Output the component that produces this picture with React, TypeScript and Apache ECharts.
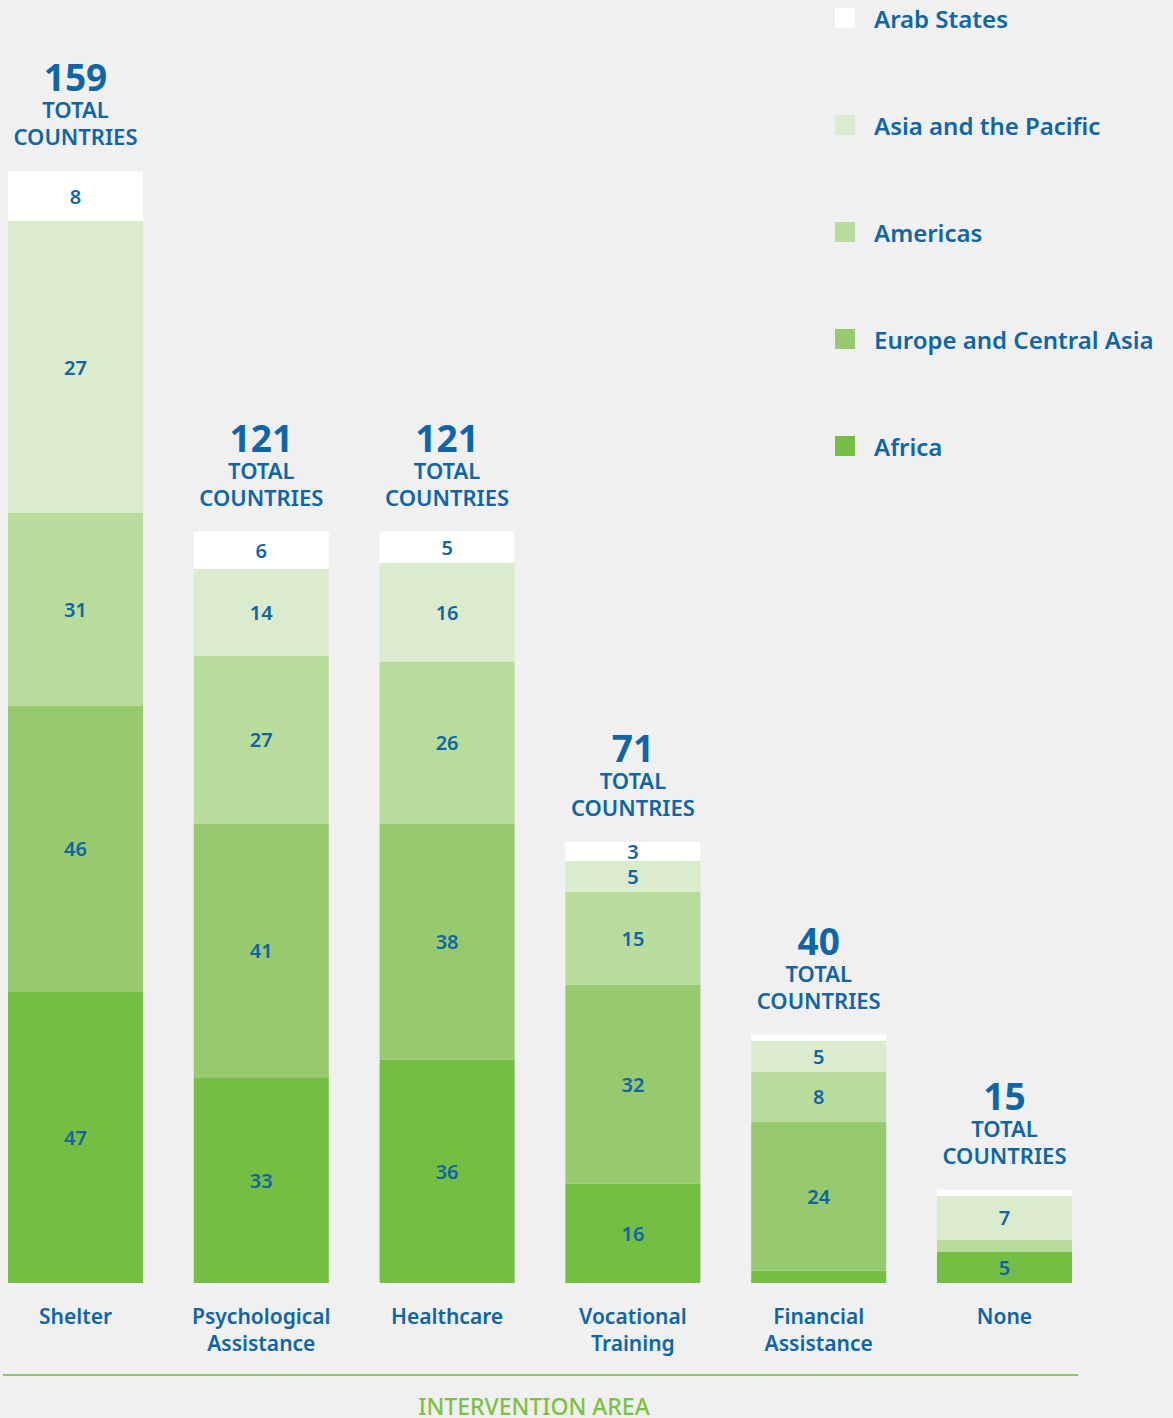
import React, { useEffect, useRef } from "react";
import * as echarts from "echarts";

const categories = [
  "Shelter",
  "Psychological\nAssistance",
  "Healthcare",
  "Vocational\nTraining",
  "Financial\nAssistance",
  "None",
];
const africa = [47, 33, 36, 16, 2, 5];
const europeCentralAsia = [46, 41, 38, 32, 24, 0];
const americas = [31, 27, 26, 15, 8, 2];
// Values as printed on the segments
const asiaPacific = [27, 14, 16, 5, 5, 7];
// Segment heights as drawn in the source (its Shelter segment is drawn 47 tall although labelled 27)
const asiaPacificDrawn = [47, 14, 16, 5, 5, 7];
const arabStates = [8, 6, 5, 3, 1, 1];
const totals = [159, 121, 121, 71, 40, 15];

const BLUE = "#0f65a6";
const FONT = "Noto Sans";

export default function App() {
  const ref = useRef<HTMLDivElement>(null);
  useEffect(() => {
    if (!ref.current) return;
    const chart = echarts.init(ref.current, undefined, { renderer: "svg" });

    const segLabel = (printed?: number[]) => ({
      show: true,
      position: "inside",
      color: BLUE,
      fontSize: 20,
      fontWeight: 600,
      fontFamily: FONT,
      formatter: (p: any) => {
        const v = printed ? printed[p.dataIndex] : p.value;
        return p.value >= 3 ? String(v) : "";
      },
    });

    const mk = (name: string, data: number[], color: string, printed?: number[]) => ({
      name,
      type: "bar",
      stack: "total",
      barWidth: 135,
      data,
      itemStyle: { color },
      label: segLabel(printed),
      emphasis: { disabled: true },
    });

    const stackTops = categories.map(
      (_, i) =>
        africa[i] + europeCentralAsia[i] + americas[i] + asiaPacificDrawn[i] + arabStates[i]
    );

    chart.setOption({
      animation: false,
      backgroundColor: "#f0f0f0",
      textStyle: { fontFamily: FONT },
      grid: { left: 2.6, right: 75.6, top: 41, bottom: 135, containLabel: false },
      legend: {
        orient: "vertical",
        left: 850,
        top: 1,
        itemWidth: 20,
        itemHeight: 20,
        itemGap: 83,
        icon: "rect",
        selectedMode: false,
        data: ["Arab States", "Asia and the Pacific", "Americas", "Europe and Central Asia", "Africa"],
        textStyle: {
          color: BLUE,
          fontSize: 24,
          fontWeight: 600,
          fontFamily: FONT,
          lineHeight: 20,
          padding: [0, 0, 0, 14],
        },
      },
      xAxis: {
        type: "category",
        data: categories,
        axisLine: { show: false },
        axisTick: { show: false },
        axisLabel: {
          color: BLUE,
          fontSize: 21,
          fontWeight: 600,
          fontFamily: FONT,
          lineHeight: 27,
          margin: 19,
          interval: 0,
        },
      },
      yAxis: { type: "value", min: 0, max: 200, show: false },
      series: [
        mk("Africa", africa, "#74be44"),
        mk("Europe and Central Asia", europeCentralAsia, "#97c96f"),
        mk("Americas", americas, "#b8dc9b"),
        mk("Asia and the Pacific", asiaPacificDrawn, "#dbebcd", asiaPacific),
        mk("Arab States", arabStates, "#ffffff"),
        {
          name: "Total",
          type: "scatter",
          data: stackTops,
          symbolSize: 1,
          itemStyle: { color: "rgba(0,0,0,0)", opacity: 1 },
          emphasis: { disabled: true },
          label: {
            show: true,
            position: "top",
            distance: 21,
            color: BLUE,
            opacity: 1,
            fontFamily: FONT,
            align: "center",
            formatter: (p: any) => `{n|${totals[p.dataIndex]}}\n{t|TOTAL}\n{t|COUNTRIES}`,
            rich: {
              n: { fontSize: 37, fontWeight: "bold", lineHeight: 38, color: BLUE, fontFamily: FONT, align: "center" },
              t: { fontSize: 22, fontWeight: 600, lineHeight: 27, color: BLUE, fontFamily: FONT, align: "center" },
            },
          },
        },
      ],
      graphic: [
        {
          type: "line",
          shape: { x1: 23, y1: 1375, x2: 1098, y2: 1375 },
          style: { stroke: "#8dc66b", lineWidth: 2 },
        },
        {
          type: "text",
          x: 554,
          y: 1406,
          style: {
            text: "INTERVENTION AREA",
            fill: "#7dc142",
            fontSize: 23,
            fontWeight: 500,
            fontFamily: FONT,
            textAlign: "center",
            textVerticalAlign: "middle",
          },
        },
      ],
    });
    return () => chart.dispose();
  }, []);

  return (
    <div
      ref={ref}
      style={{
        position: "absolute",
        left: -20,
        top: 0,
        width: 1193,
        height: 1418,
        background: "#f0f0f0",
      }}
    />
  );
}
